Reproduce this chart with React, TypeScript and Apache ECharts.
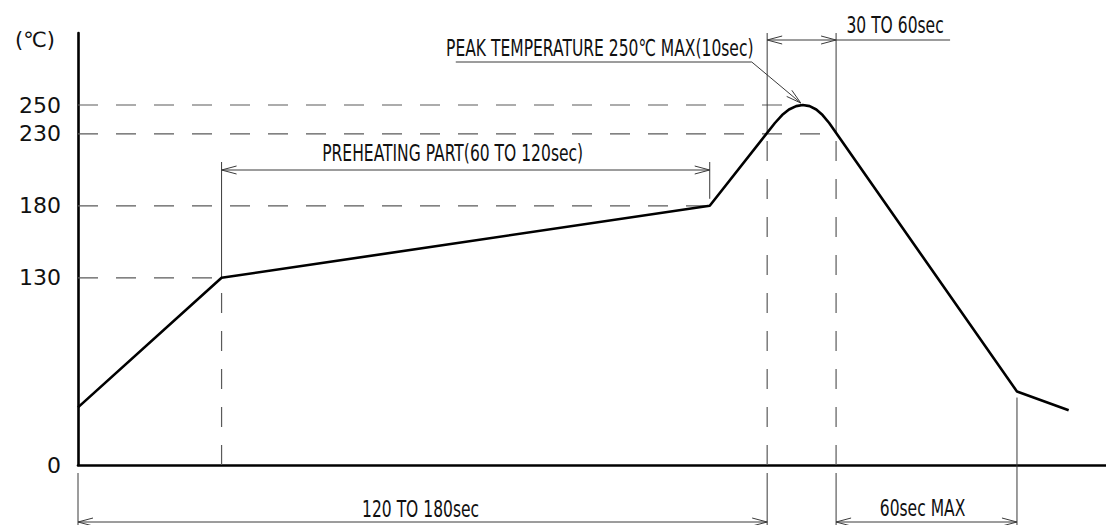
import React, { useEffect, useRef } from "react";
import * as echarts from "echarts";

// Reflow profile: time (s) and temperature (℃)
const profileTime = [0, 50, 220, 242.7, 245.2, 247.6, 250.1, 252.4, 254.8, 257.1, 259.3, 261.6, 327, 345];
const profileTemp = [40, 130, 180, 237.5, 243, 246.9, 249.2, 250, 249.2, 246.9, 243, 237.5, 51, 38];

// y-axis tick labels
const tempTicks = [0, 130, 180, 230, 250];
const tempUnit = "(℃)";

// horizontal dashed guides: level (℃) and the time (s) where each meets the profile
const guideLevels = [250, 230, 180, 130];
const guideLevelEnds = [252.4, 264, 220, 50];
// vertical dashed guides: time (s) and the temperature where each meets the profile
const guideTimes = [50, 240, 264];
const guideTimeTops = [130, 230, 230];

// dimension spans (s), the profile temperature at each end, and their labels
const dimStart = [50, 240, 0, 264];
const dimEnd = [220, 264, 240, 327];
const dimStartTemp = [130, 230, 0, 0];
const dimEndTemp = [180, 230, 0, 51];
const dimLabels = ["PREHEATING PART(60 TO 120sec)", "30 TO 60sec", "120 TO 180sec", "60sec MAX"];

// peak call-out
const peakTime = 252.4;
const peakTemp = 250;
const peakLabel = "PEAK TEMPERATURE 250℃ MAX(10sec)";

// ---- layout / style constants ----
const THIN = "#3a3a3a";
const DASH = "#5a5a5a";
const TEXT = "#111";
const ANNOT_SCALE_X = 0.74;
const ANNOT_SCALE_Y = 1.1;
const ANNOT_SIZE = 21;
const FONT = "DejaVu Sans";

const DIM_LAYOUT = [
  { row: 170, gap: [0, 7], over: 8, anchor: "mid", dx: -13, dy: -17, leader: 0 },
  { row: 40, gap: [0, 0], over: 7, anchor: "end", dx: 59, dy: -15, leader: 114 },
  { row: 522, gap: [8, 8], over: 8, anchor: "mid", dx: -2, dy: -13, leader: 0 },
  { row: 522, gap: [8, 6], over: 8, anchor: "mid", dx: -4, dy: -14, leader: 0 },
];

function chevron(tx: number, ty: number, fx: number, fy: number) {
  const dx = fx - tx;
  const dy = fy - ty;
  const len = Math.hypot(dx, dy) || 1;
  const ux = dx / len;
  const uy = dy / len;
  const nx = -uy;
  const ny = ux;
  const L = 15;
  const W = 4;
  return {
    type: "polyline",
    shape: {
      points: [
        [tx + ux * L + nx * W, ty + uy * L + ny * W],
        [tx, ty],
        [tx + ux * L - nx * W, ty + uy * L - ny * W],
      ],
    },
    style: { stroke: THIN, lineWidth: 1, fill: "none" },
  };
}

function annotText(text: string, x: number, y: number) {
  return {
    type: "text",
    x,
    y,
    scaleX: ANNOT_SCALE_X,
    scaleY: ANNOT_SCALE_Y,
    style: {
      text,
      x: 0,
      y: 0,
      fill: TEXT,
      fontSize: ANNOT_SIZE,
      fontFamily: FONT,
      align: "center",
      verticalAlign: "middle",
    },
  };
}

function thinLine(x1: number, y1: number, x2: number, y2: number) {
  return {
    type: "line",
    shape: { x1, y1, x2, y2 },
    style: { stroke: THIN, lineWidth: 1 },
  };
}

export default function App() {
  const ref = useRef<HTMLDivElement>(null);

  useEffect(() => {
    if (!ref.current) return;
    const chart = echarts.init(ref.current, undefined, { renderer: "svg" });

    // each guide is drawn from the axis outwards to the profile
    const guideData = [
      ...guideLevels.map((T, i) => [0, T, guideLevelEnds[i], T]),
      ...guideTimes.map((t, i) => [t, 0, t, guideTimeTops[i]]),
    ];
    const dimData = dimStart.map((s, i) => [s, dimEnd[i], dimStartTemp[i], dimEndTemp[i]]);

    const option: any = {
      animation: false,
      grid: { left: 78, right: 0, top: 33, bottom: 60, containLabel: false },
      xAxis: {
        type: "value",
        min: 0,
        max: 358,
        axisLine: { show: true, lineStyle: { color: "#000", width: 2.6 } },
        axisTick: { show: false },
        axisLabel: { show: false },
        splitLine: { show: false },
      },
      yAxis: {
        type: "value",
        min: 0,
        max: 300,
        name: tempUnit,
        nameLocation: "end",
        nameGap: -7,
        nameTextStyle: {
          align: "right",
          verticalAlign: "middle",
          padding: [0, 23, 0, 0],
          fontSize: 21,
          fontFamily: FONT,
          color: TEXT,
        },
        axisLine: { show: true, lineStyle: { color: "#000", width: 2.6 } },
        axisTick: { show: false },
        axisLabel: {
          customValues: tempTicks,
          fontSize: 22,
          fontFamily: FONT,
          color: TEXT,
          margin: 17,
        },
        splitLine: { show: false },
      },
      series: [
        {
          type: "custom",
          name: "guides",
          silent: true,
          clip: false,
          z: 2,
          data: guideData,
          renderItem: (params: any, api: any) => {
            const p1 = api.coord([api.value(0), api.value(1)]);
            const p2 = api.coord([api.value(2), api.value(3)]);
            return {
              type: "line",
              shape: { x1: p1[0], y1: p1[1], x2: p2[0], y2: p2[1] },
              style: { stroke: DASH, lineWidth: 1.2, lineDash: [20, 18] },
            };
          },
        },
        {
          type: "custom",
          name: "dimensions",
          silent: true,
          clip: false,
          z: 3,
          data: dimData,
          renderItem: (params: any, api: any) => {
            const i = params.dataIndex;
            const L = DIM_LAYOUT[i];
            const a = api.coord([api.value(0), api.value(2)]);
            const b = api.coord([api.value(1), api.value(3)]);
            const row = L.row;
            const children: any[] = [];
            [a, b].forEach((p: number[], k: number) => {
              const sign = row < p[1] ? -1 : 1;
              children.push(thinLine(p[0], p[1] + sign * L.gap[k], p[0], row + sign * L.over));
            });
            children.push(thinLine(a[0], row, b[0], row));
            children.push(chevron(a[0], row, b[0], row));
            children.push(chevron(b[0], row, a[0], row));
            let cx = (a[0] + b[0]) / 2 + L.dx;
            if (L.anchor === "end") {
              cx = b[0] + L.dx;
            }
            if (L.leader > 0) {
              children.push(thinLine(b[0], row, b[0] + L.leader, row));
            }
            children.push(annotText(dimLabels[i], cx, row + L.dy));
            return { type: "group", children };
          },
        },
        {
          type: "custom",
          name: "peak",
          silent: true,
          clip: false,
          z: 3,
          data: [[peakTime, peakTemp]],
          renderItem: (params: any, api: any) => {
            const p = api.coord([api.value(0), api.value(1)]);
            const tip = [p[0] - 2, p[1] - 2];
            const knee = [tip[0] - 49, tip[1] - 41];
            const start = [knee[0] - 296, knee[1]];
            return {
              type: "group",
              children: [
                {
                  type: "polyline",
                  shape: { points: [start, knee, tip] },
                  style: { stroke: THIN, lineWidth: 1, fill: "none" },
                },
                chevron(tip[0], tip[1], knee[0], knee[1]),
                annotText(peakLabel, knee[0] - 152, knee[1] - 14),
              ],
            };
          },
        },
        {
          type: "line",
          name: "profile",
          silent: true,
          clip: false,
          z: 5,
          showSymbol: false,
          symbol: "none",
          smooth: false,
          lineStyle: { color: "#000", width: 2.6 },
          data: profileTime.map((t, i) => [t, profileTemp[i]]),
        },
      ],
    };

    chart.setOption(option);
    return () => chart.dispose();
  }, []);

  return (
    <div
      ref={ref}
      style={{ position: "fixed", left: 0, top: 0, width: 1106, height: 525, background: "#fff" }}
    />
  );
}
